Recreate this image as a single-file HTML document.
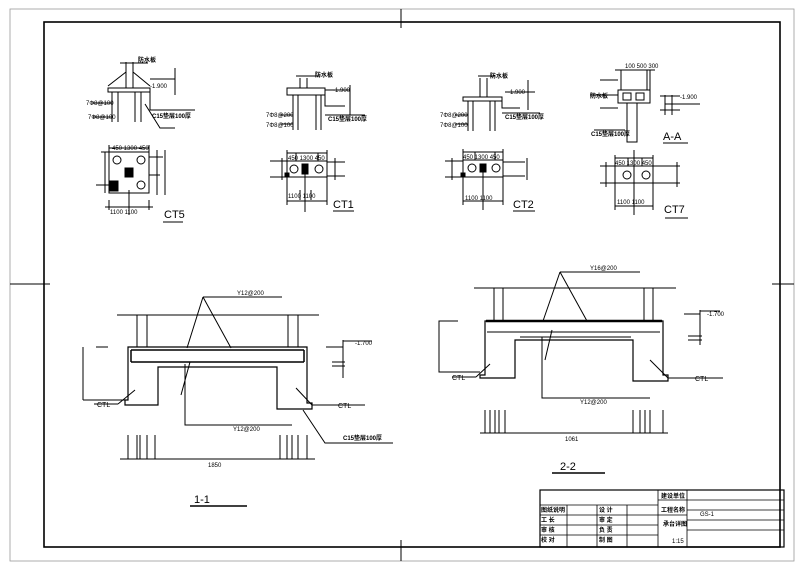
<!DOCTYPE html>
<html><head><meta charset="utf-8"><style>
html,body{margin:0;padding:0;background:#fff;}
svg{display:block;}
text{font-family:"Liberation Sans","Noto Sans CJK SC",sans-serif;fill:#000;}
.t{font-size:6px;}
.c{font-size:6px;font-weight:bold;}
.b{font-size:11px;}
.m{font-size:7px;}
</style></head><body>
<svg width="800" height="564" viewBox="0 0 800 564" xmlns="http://www.w3.org/2000/svg">
<g fill="none" stroke="#000" stroke-width="1">
<rect x="10" y="9" width="784" height="552" stroke="#999" stroke-width="0.8"/>
<rect x="44" y="22" width="736" height="525" stroke-width="1.6"/>
<line x1="401" y1="9" x2="401" y2="28"/><line x1="401" y1="540" x2="401" y2="561"/>
<line x1="10" y1="284" x2="50" y2="284"/><line x1="772" y1="284" x2="794" y2="284"/>

<path d="M108,88 H150 V92 H108 Z"/>
<path d="M112,92 V122 M118,92 V122 M135,92 V122 M141,92 V122"/>
<path d="M126,62 V88 M133,62 V88 M108,86 L126,72 M150,86 L133,72 M120,63 H148"/>
<path d="M150,92 V110 H195 M150,79 H175 M175,68 V95 M145,104 L160,128 H175"/>
<path d="M92,103 H112 M93,117 H112"/>
<rect x="109" y="152" width="40" height="41"/>
<circle cx="117" cy="160" r="4"/><circle cx="141" cy="160" r="4"/><circle cx="141" cy="185" r="4"/>
<rect x="125" y="168" width="8" height="9" fill="#000"/>
<rect x="110" y="181" width="8" height="10" fill="#000"/>
<path d="M109,148 H149 M109,145 V152 M149,145 V152 M105,152 V193 M101,152 H109 M149,157 H163 M149,175 H160 M157,150 V195 M165,150 V195 M109,200 V210 M149,200 V210 M105,207 H153 M129,190 V215"/>
<path d="M96,185 H110"/>
<path d="M163,222 H183"/>

<path d="M287,88 H325 V95 H287 Z"/>
<path d="M293,95 V130 M298,95 V130 M316,95 V130 M321,95 V130 M300,78 V88 M307,78 V88 M296,76 H320"/>
<path d="M325,95 V106 H345 M325,90 H350 M350,85 V115 M325,115 H365"/>
<path d="M280,115 H293 M280,124 H293"/>
<rect x="287" y="161" width="40" height="16"/>
<circle cx="294" cy="169" r="4"/><circle cx="319" cy="169" r="4"/>
<rect x="302" y="164" width="6" height="10" fill="#000"/>
<rect x="285" y="173" width="4" height="4" fill="#000"/>
<path d="M287,153 H327 M287,150 V161 M327,150 V161 M296,153 V161 M318,153 V161 M270,161 H287 M270,177 H287 M282,158 V180 M327,162 H345 M327,176 H345 M335,158 V180 M305,165 V212 M287,175 V205 M327,175 V205 M287,201 H327 M300,190 V200 M311,190 V200"/>
<path d="M333,211 H354"/>

<path d="M463,97 H502 V101 H463 Z"/>
<path d="M468,101 V131 M473,101 V131 M490,101 V131 M495,101 V131 M480,78 V97 M487,78 V97 M478,76 H495"/>
<path d="M502,101 V108 H520 M505,92 H535 M528,80 V110 M502,113 H540"/>
<path d="M455,115 H468 M455,124 H468"/>
<rect x="463" y="160" width="40" height="17"/>
<circle cx="472" cy="168" r="4"/><circle cx="496" cy="168" r="4"/>
<rect x="480" y="164" width="6" height="8" fill="#000"/>
<rect x="461" y="173" width="4" height="4" fill="#000"/>
<path d="M463,152 H503 M463,149 V160 M503,149 V160 M475,152 V160 M495,152 V160 M445,161 H463 M445,177 H463 M452,158 V180 M503,162 H525 M503,176 H525 M527,158 V180 M483,168 V210 M463,175 V205 M503,175 V205 M463,201 H503"/>
<path d="M513,211 H535"/>

<rect x="618" y="90" width="32" height="13"/>
<rect x="623" y="93" width="8" height="7"/><rect x="636" y="93" width="8" height="7"/>
<path d="M627,103 V142 H637 V103 M621,70 V90 M647,70 V90 M650,70 V90 M615,70 H655 M600,80 H618 M600,108 H618 M590,95 H618 M594,130 H625"/>
<path d="M665,95 V115 M672,95 V115 M660,96 H680 M665,104 H700 M660,110 H680"/>
<path d="M663,143 H688"/>
<rect x="615" y="166" width="38" height="17"/>
<circle cx="627" cy="175" r="4"/><circle cx="646" cy="175" r="4"/>
<path d="M615,158 H653 M615,155 V166 M653,155 V166 M628,158 V166 M642,158 V166 M600,166 H615 M600,183 H615 M606,162 V187 M653,166 H680 M653,183 H680 M677,162 V187 M634,150 V215 M615,183 V210 M653,183 V210 M615,206 H653"/>
<path d="M665,218 H688"/>

<line x1="117" y1="315" x2="319" y2="315"/>
<path d="M137,315 V347 M147,315 V347 M288,315 V347 M298,315 V347"/>
<path d="M128,347 H307 V403 H312 V409 H277 V367 H158 V405 H125 V400 H128 Z" stroke-width="1.2"/>
<path d="M131,350 H304 M131,362 H304 M131,350 V362 M304,350 V362" stroke-width="1.5"/>
<path d="M203,297 L187,348 M203,297 L231,348 M203,297 H282 M185,364 V425 H292 M190,362 L181,395"/>
<path d="M108,347 H96 M83,347 V400 M83,400 H128 M94,404 H118 M118,404 L135,390 M312,405 H365 M312,405 L296,388 M303,410 L325,443 H393"/>
<path d="M128,435 V459 M137,435 V459 M140,435 V459 M147,435 V459 M155,435 V459 M280,435 V459 M287,435 V459 M292,435 V459 M298,435 V459 M307,435 V459 M120,459 H315"/>
<path d="M326,347 H343 M343,340 V378 M332,362 H345 M332,366 H345 M343,341 H372"/>
<line x1="190" y1="506" x2="247" y2="506" stroke-width="1.5"/>

<line x1="474" y1="288" x2="676" y2="288"/>
<path d="M494,288 V321 M503,288 V321 M644,288 V321 M653,288 V321"/>
<path d="M485,321 H663 V375 H668 V381 H633 V340 H515 V378 H480 V375 H485 Z" stroke-width="1.2"/>
<path d="M486,321 H662" stroke-width="2.5"/>
<path d="M487,332 H660 M520,337 H631"/>
<path d="M560,272 L543,321 M560,272 L587,321 M560,272 H640 M542,337 V398 H650 M552,330 L545,360"/>
<path d="M458,321 H439 V372 H480 M452,377 H476 M476,377 L490,364 M668,378 H723 M668,378 L650,360"/>
<path d="M485,410 V433 M490,410 V433 M495,410 V433 M499,410 V433 M505,410 V433 M633,410 V433 M640,410 V433 M645,410 V433 M650,410 V433 M663,410 V433 M480,433 H668"/>
<path d="M684,314 H700 M700,310 V345 M688,336 H702 M688,340 H702 M700,311 H720"/>
<line x1="552" y1="473" x2="605" y2="473" stroke-width="1.5"/>

<rect x="540" y="490" width="244" height="57" stroke-width="1.2"/>
<path d="M540,505 H658 M540,515 H687 M540,525 H658 M540,535 H658 M658,490 V547 M687,490 V547 M567,505 V547 M597,505 V547 M627,505 V547 M658,500 H784 M687,510 H784 M687,520 H784 M687,530 H784" stroke-width="0.8"/>
</g>
<g>
<text class="b" x="164" y="218">CT5</text>
<text class="b" x="333" y="208">CT1</text>
<text class="b" x="513" y="208">CT2</text>
<text class="b" x="664" y="213">CT7</text>
<text class="b" x="663" y="140">A-A</text>
<text class="b" x="194" y="503">1-1</text>
<text class="b" x="560" y="470">2-2</text>
<text class="m" x="97" y="407">CTL</text><text class="m" x="338" y="408">CTL</text>
<text class="m" x="452" y="380">CTL</text><text class="m" x="695" y="381">CTL</text>
<text class="t" x="237" y="295">Y12@200</text>
<text class="t" x="233" y="431">Y12@200</text>
<text class="t" x="590" y="270">Y16@200</text>
<text class="t" x="580" y="404">Y12@200</text>
<text class="t" x="355" y="345">-1.700</text>
<text class="t" x="707" y="316">-1.700</text>
<text class="t" x="208" y="467">1850</text>
<text class="t" x="565" y="441">1061</text>
<text class="t" x="150" y="88">-1.900</text>
<text class="t" x="333" y="92">-1.900</text>
<text class="t" x="508" y="94">-1.900</text>
<text class="t" x="680" y="99">-1.900</text>
<text class="t" x="112" y="150">450 1300 450</text>
<text class="t" x="288" y="160">450 1300 450</text>
<text class="t" x="463" y="159">450 1300 450</text>
<text class="t" x="615" y="165">450 1300 450</text>
<text class="t" x="110" y="214">1100 1100</text>
<text class="t" x="288" y="198">1100 1100</text>
<text class="t" x="465" y="200">1100 1100</text>
<text class="t" x="617" y="204">1100 1100</text>
<text class="t" x="625" y="68">100  500  300</text>
<text class="t" x="86" y="105">7Φ8@100</text>
<text class="t" x="88" y="119">7Φ8@100</text>
<text class="t" x="266" y="117">7Φ8@200</text>
<text class="t" x="266" y="127">7Φ8@100</text>
<text class="t" x="440" y="117">7Φ8@200</text>
<text class="t" x="440" y="127">7Φ8@100</text>
<text class="c" x="138" y="62">防水板</text>
<text class="c" x="315" y="77">防水板</text>
<text class="c" x="490" y="78">防水板</text>
<text class="c" x="152" y="118">C15垫层100厚</text>
<text class="c" x="328" y="121">C15垫层100厚</text>
<text class="c" x="505" y="119">C15垫层100厚</text>
<text class="c" x="591" y="136">C15垫层100厚</text>
<text class="c" x="590" y="98">防水板</text>
<text class="c" x="343" y="440">C15垫层100厚</text>
<text class="c" x="541" y="512">图纸说明</text>
<text class="c" x="541" y="522">工 长</text>
<text class="c" x="541" y="532">审 核</text>
<text class="c" x="541" y="542">校 对</text>
<text class="c" x="599" y="512">设 计</text>
<text class="c" x="599" y="522">审 定</text>
<text class="c" x="599" y="532">负 责</text>
<text class="c" x="599" y="542">制 图</text>
<text class="c" x="661" y="498">建设单位</text>
<text class="c" x="661" y="512">工程名称</text>
<text class="t" x="700" y="516">GS-1</text>
<text class="c" x="663" y="526">承台详图</text>
<text class="t" x="672" y="543">1:15</text>
</g>
</svg>
</body></html>
